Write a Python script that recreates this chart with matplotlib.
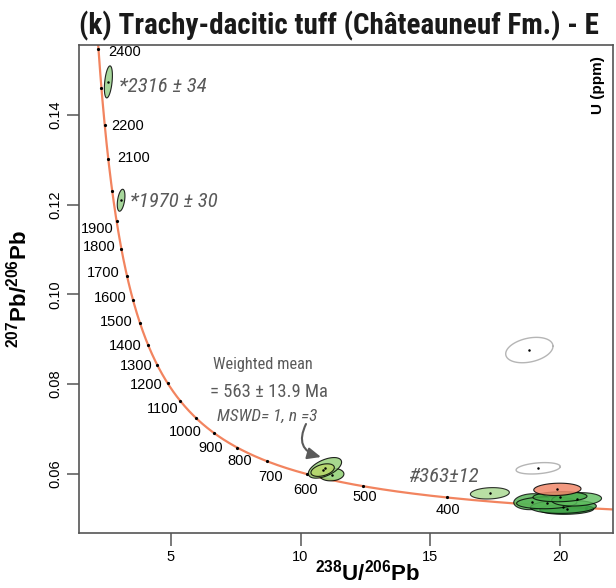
import numpy as np
import matplotlib
matplotlib.use("Agg")
import matplotlib.pyplot as plt

plt.rcParams['font.family'] = ['Liberation Sans', 'DejaVu Sans']
plt.rcParams['mathtext.fontset'] = 'custom'
plt.rcParams['mathtext.rm'] = 'Liberation Sans'
plt.rcParams['mathtext.bf'] = 'Liberation Sans:bold'
plt.rcParams['mathtext.it'] = 'Liberation Sans:italic'

NARROW = ['Liberation Sans Narrow', 'Roboto Condensed', 'Liberation Sans', 'DejaVu Sans']

# ---------------- data ----------------
L238 = 1.55125e-10
L235 = 9.8485e-10
U_RATIO = 137.88

tick_ages = [300, 400, 500, 600, 700, 800, 900, 1000, 1100, 1200, 1300, 1400,
             1500, 1600, 1700, 1800, 1900, 2000, 2100, 2200, 2300, 2400]
label_ages = [400, 500, 600, 700, 800, 900, 1000, 1100, 1200, 1300, 1400,
              1500, 1600, 1700, 1800, 1900, 2100, 2200, 2400]

# old zircons (*2316, *1970)
old_x = [2.60, 3.09]
old_y = [0.1474, 0.1210]
old_ex = [0.155, 0.148]
old_ey = [0.00357, 0.00245]
old_rho = [0.4, 0.4]

# weighted-mean group (3 analyses)
wm_x = [11.20, 10.94, 10.85]
wm_y = [0.0598, 0.0613, 0.0608]
wm_ex = [0.47, 0.64, 0.45]
wm_ey = [0.0014, 0.0023, 0.0014]
wm_rho = [0.1, 0.55, 0.4]

# discarded (open grey) analyses
grey_x = [18.81, 19.15]
grey_y = [0.08758, 0.0612]
grey_ex = [0.91, 0.85]
grey_ey = [0.00283, 0.00127]
grey_rho = [0.3, 0.3]

# young analyses (#363 and cluster)
young_x = [17.29, 18.90, 20.25, 20.12, 19.48, 20.63, 19.99]
young_y = [0.05562, 0.05375, 0.05205, 0.05263, 0.05352, 0.05428, 0.05486]
young_ex = [0.75, 0.69, 1.04, 1.27, 1.16, 0.96, 1.04]
young_ey = [0.00127, 0.00178, 0.00112, 0.00149, 0.00134, 0.00149, 0.00112]
young_rho = [0.15, 0.1, 0.1, 0.1, 0.1, 0.15, 0.1]

# orange analysis
or_x = [19.89]
or_y = [0.05651]
or_ex = [0.91]
or_ey = [0.00137]
or_rho = [0.1]

# ---------------- styles ----------------
old_cols = ['#98d08a', '#98d08a']
wm_cols = ['#8fcf72', '#98d07c', '#b8d66a']
young_cols = ['#a6d88e', '#4fb04f', '#2f963c', '#3fa447', '#58b758', '#5fbf5f', '#47ab4a']
or_cols = ['#f0876a']

label_off = {2400: (10, -3, 'left'), 2200: (7, -1, 'left'), 2100: (9, 1, 'left'),
             1900: (-3, -8, 'right'), 1800: (-6, 2, 'right'), 1700: (-7, 3, 'right'),
             1600: (-6, 2, 'right'), 1500: (-7, 1, 'right'), 1400: (-6, -1.5, 'right'),
             1300: (-4, -1.5, 'right'), 1200: (-5, -1.5, 'right'), 1100: (-2, -8, 'right'),
             1000: (-10, -14, 'center'), 900: (-4, -15, 'center'), 800: (2, -13, 'center'),
             700: (3, -16, 'center'), 600: (-2, -16, 'center'), 500: (2, -11, 'center'),
             400: (1, -13, 'center')}


def concordia(t_ma):
    t = np.asarray(t_ma, dtype=float) * 1e6
    e8 = np.exp(L238 * t) - 1
    e5 = np.exp(L235 * t) - 1
    return 1.0 / e8, e5 / e8 / U_RATIO


def ellipse(x, y, ex, ey, rho, n=120):
    th = np.linspace(0, 2 * np.pi, n)
    X = x + ex * np.cos(th)
    Y = y + ey * (rho * np.cos(th) + np.sqrt(1 - rho ** 2) * np.sin(th))
    return X, Y


fig = plt.figure(figsize=(6.16, 5.88), dpi=100)
W, H = 616.0, 588.0
ax = fig.add_axes([79.3 / W, 1 - 533.3 / H, (612.7 - 79.3) / W, (533.3 - 44.7) / H])
ax.set_xlim(1.48, 22.02)
ax.set_ylim(0.0467, 0.1557)

# concordia curve
ages = np.linspace(150, 2700, 800)
cx, cy = concordia(ages)
ax.plot(cx, cy, color='#f2845f', lw=1.6, zorder=2)
tx, ty = concordia(tick_ages)
ax.plot(tx, ty, 'o', color='black', ms=2.3, mec='none', zorder=3)

for a in label_ages:
    px, py = concordia([a])
    dx, dy, ha = label_off[a]
    ax.annotate(str(a), xy=(px[0], py[0]), xytext=(dx, dy), textcoords='offset pixels',
                ha=ha, va='center', fontsize=10.5, color='black', zorder=4)


def draw(xs, ys, exs, eys, rhos, cols, edge='black', lw=0.8, alpha=0.85, fill=True, z=5):
    for i in range(len(xs)):
        X, Y = ellipse(xs[i], ys[i], exs[i], eys[i], rhos[i])
        if fill:
            ax.fill(X, Y, facecolor=cols[i], edgecolor=edge, lw=lw, alpha=alpha, zorder=z + i * 0.01)
        else:
            ax.plot(X, Y, color=edge, lw=lw, zorder=z)
        ax.plot(xs[i], ys[i], 'o', color='black', ms=1.8, mec='none', zorder=z + 0.5)


draw(old_x, old_y, old_ex, old_ey, old_rho, old_cols)
draw(wm_x, wm_y, wm_ex, wm_ey, wm_rho, wm_cols)
draw(grey_x, grey_y, grey_ex, grey_ey, grey_rho, None, edge='#b5b5b5', lw=1.0, fill=False)
draw(young_x, young_y, young_ex, young_ey, young_rho, young_cols, alpha=0.8)
draw(or_x, or_y, or_ex, or_ey, or_rho, or_cols, alpha=0.85, z=6)

# annotations
gcol = '#5a5a5a'


def fig_text(px, py, s, **kw):
    fig.text(px / W, 1 - py / H, s, **kw)


fig_text(119, 86, '*2316 ± 34', fontsize=15, style='italic', color=gcol, va='center', family=NARROW)
fig_text(130, 201.7, '*1970 ± 30', fontsize=15, style='italic', color=gcol, va='center', family=NARROW)
fig_text(263, 365, 'Weighted mean', fontsize=11.8, color=gcol, va='center', ha='center', family=NARROW)
fig_text(268.5, 391.7, '= 563 ± 13.9 Ma', fontsize=13.4, color=gcol, va='center', ha='center', family=NARROW)
fig_text(267.5, 416, 'MSWD= 1, n =3', fontsize=12.5, style='italic', color=gcol, va='center', ha='center', family=NARROW)
fig_text(408, 476.7, '#363±12', fontsize=15, style='italic', color=gcol, va='center', family=NARROW)

ax.annotate('', xy=(321 / W, 1 - 457 / H), xycoords='figure fraction',
            xytext=(306 / W, 1 - 424 / H), textcoords='figure fraction',
            arrowprops=dict(arrowstyle='-|>,head_length=0.8,head_width=0.35', color=gcol, lw=1.5,
                            connectionstyle='arc3,rad=0.6', shrinkA=0, shrinkB=0))

fig_text(598, 85, 'U (ppm)', fontsize=11, fontweight='bold', rotation=90, va='center', ha='center')

# title (the reference shows it cut after "- E")
fig_text(78.6, 25.5, '(k) Trachy-dacitic tuff (Châteauneuf Fm.) - E', fontsize=21,
         fontweight='bold', va='center', ha='left', family=NARROW, color='#1a1a1a')

# axes styling
for s in ax.spines.values():
    s.set_color('#555555')
    s.set_linewidth(1.2)
ax.set_xticks([5, 10, 15, 20])
ax.set_yticks([0.06, 0.08, 0.10, 0.12, 0.14])
ax.set_yticklabels(['0.06', '0.08', '0.10', '0.12', '0.14'], rotation=90, va='center')
ax.tick_params(direction='out', length=9, width=1.1, color='#555555', labelsize=10.5, pad=3)

fig_text(368, 573, r'$\mathbf{^{238}U/^{206}Pb}$', fontsize=16, ha='center', va='center')
fig_text(19, 289, r'$\mathbf{^{207}Pb/^{206}Pb}$', fontsize=16, ha='center', va='center', rotation=90)

fig.savefig('out.png', dpi=100)
